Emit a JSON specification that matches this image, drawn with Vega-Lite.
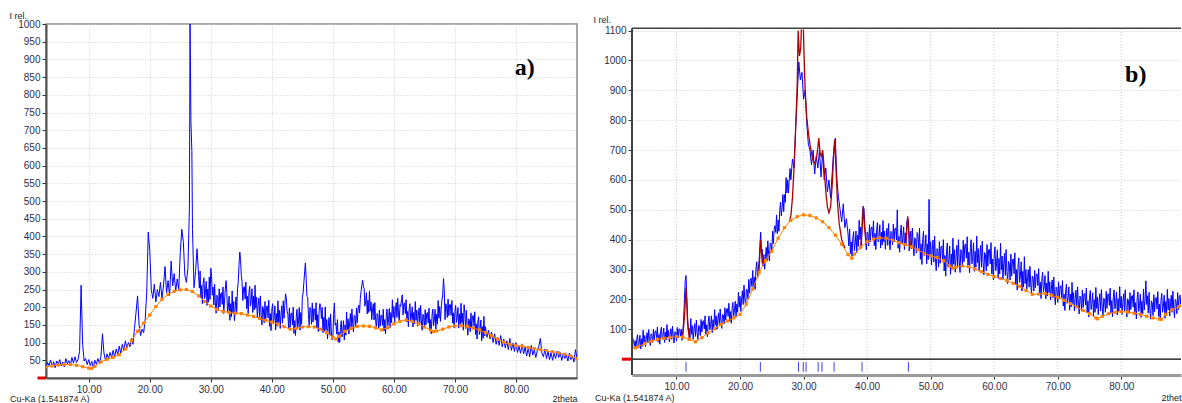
{
"$schema": "https://vega.github.io/schema/vega-lite/v6.json",
"background": "white",
"padding": {"left": 8, "top": 10, "right": 0, "bottom": 0},
"spacing": 15,
"datasets": {
"a_obs": [
{"t":3.0,"i":30},{"t":3.25,"i":44},{"t":3.5,"i":35},{"t":3.75,"i":51},{"t":4.0,"i":32},{"t":4.25,"i":46},{"t":4.5,"i":29},{"t":4.75,"i":48},{"t":5.0,"i":38},{"t":5.25,"i":52},{"t":5.5,"i":34},{"t":5.75,"i":45},{"t":6.0,"i":31},{"t":6.25,"i":55},{"t":6.5,"i":40},{"t":6.75,"i":49},{"t":7.0,"i":36},{"t":7.25,"i":58},{"t":7.5,"i":42},{"t":7.75,"i":60},{"t":8.0,"i":44},{"t":8.25,"i":52},{"t":8.5,"i":75},{"t":8.75,"i":262},{"t":9.0,"i":95},{"t":9.25,"i":48},{"t":9.5,"i":55},{"t":9.75,"i":38},{"t":10.0,"i":52},{"t":10.25,"i":35},{"t":10.5,"i":47},{"t":10.75,"i":30},{"t":11.0,"i":50},{"t":11.25,"i":39},{"t":11.5,"i":55},{"t":11.75,"i":42},{"t":12.0,"i":60},{"t":12.25,"i":125},{"t":12.5,"i":70},{"t":12.75,"i":50},{"t":13.0,"i":68},{"t":13.25,"i":55},{"t":13.5,"i":72},{"t":13.75,"i":58},{"t":14.0,"i":78},{"t":14.25,"i":60},{"t":14.5,"i":82},{"t":14.75,"i":66},{"t":15.0,"i":90},{"t":15.25,"i":70},{"t":15.5,"i":95},{"t":15.75,"i":78},{"t":16.0,"i":105},{"t":16.25,"i":84},{"t":16.5,"i":100},{"t":16.75,"i":88},{"t":17.0,"i":112},{"t":17.25,"i":95},{"t":17.5,"i":140},{"t":17.75,"i":185},{"t":18.0,"i":232},{"t":18.25,"i":150},{"t":18.5,"i":120},{"t":18.75,"i":138},{"t":19.0,"i":128},{"t":19.25,"i":165},{"t":19.5,"i":240},{"t":19.75,"i":412},{"t":20.0,"i":360},{"t":20.25,"i":250},{"t":20.5,"i":225},{"t":20.75,"i":265},{"t":21.0,"i":215},{"t":21.25,"i":250},{"t":21.5,"i":230},{"t":21.75,"i":270},{"t":22.0,"i":225},{"t":22.25,"i":260},{"t":22.5,"i":315},{"t":22.75,"i":240},{"t":23.0,"i":275},{"t":23.25,"i":232},{"t":23.5,"i":330},{"t":23.75,"i":260},{"t":24.0,"i":295},{"t":24.25,"i":245},{"t":24.5,"i":280},{"t":24.75,"i":250},{"t":25.0,"i":355},{"t":25.25,"i":420},{"t":25.5,"i":385},{"t":25.75,"i":290},{"t":26.0,"i":270},{"t":26.25,"i":310},{"t":26.5,"i":480},{"t":26.6,"i":1000},{"t":26.75,"i":720},{"t":26.9,"i":640},{"t":27.0,"i":420},{"t":27.25,"i":255},{"t":27.5,"i":300},{"t":27.75,"i":365},
{"t":28.0,"i":290},{"t":28.125,"i":254},{"t":28.25,"i":302},{"t":28.375,"i":226},{"t":28.5,"i":261},{"t":28.625,"i":210},{"t":28.75,"i":267},{"t":28.875,"i":283},{"t":29.0,"i":225},{"t":29.125,"i":241},{"t":29.25,"i":273},{"t":29.375,"i":205},{"t":29.5,"i":251},{"t":29.625,"i":214},{"t":29.75,"i":285},{"t":29.875,"i":222},{"t":30.0,"i":310},{"t":30.125,"i":290},{"t":30.25,"i":234},{"t":30.375,"i":257},{"t":30.5,"i":206},{"t":30.625,"i":265},{"t":30.75,"i":213},{"t":30.875,"i":183},{"t":31.0,"i":234},{"t":31.125,"i":227},{"t":31.25,"i":191},{"t":31.375,"i":252},{"t":31.5,"i":201},{"t":31.625,"i":239},{"t":31.75,"i":241},{"t":31.875,"i":208},{"t":32.0,"i":257},{"t":32.125,"i":182},{"t":32.25,"i":217},{"t":32.375,"i":250},{"t":32.5,"i":275},{"t":32.625,"i":242},{"t":32.75,"i":184},{"t":32.875,"i":199},{"t":33.0,"i":231},{"t":33.125,"i":163},{"t":33.25,"i":210},{"t":33.375,"i":173},{"t":33.5,"i":246},{"t":33.625,"i":183},{"t":33.75,"i":216},{"t":33.875,"i":162},{"t":34.0,"i":198},{"t":34.125,"i":229},{"t":34.25,"i":184},{"t":34.375,"i":251},{"t":34.5,"i":270},{"t":34.625,"i":320},{"t":34.75,"i":356},{"t":34.875,"i":335},{"t":35.0,"i":290},{"t":35.125,"i":272},{"t":35.25,"i":219},{"t":35.375,"i":256},{"t":35.5,"i":258},{"t":35.625,"i":223},{"t":35.75,"i":271},{"t":35.875,"i":196},{"t":36.0,"i":231},{"t":36.125,"i":182},{"t":36.25,"i":241},{"t":36.375,"i":259},{"t":36.5,"i":203},{"t":36.625,"i":219},{"t":36.75,"i":252},{"t":36.875,"i":185},{"t":37.0,"i":231},{"t":37.125,"i":192},{"t":37.25,"i":262},{"t":37.375,"i":197},{"t":37.5,"i":228},{"t":37.625,"i":170},{"t":37.75,"i":204},{"t":37.875,"i":226},{"t":38.0,"i":173},{"t":38.125,"i":232},{"t":38.25,"i":180},{"t":38.375,"i":150},{"t":38.5,"i":202},{"t":38.625,"i":194},{"t":38.75,"i":156},{"t":38.875,"i":216},{"t":39.0,"i":163},{"t":39.125,"i":201},{"t":39.25,"i":204},{"t":39.375,"i":170},{"t":39.5,"i":220},{"t":39.625,"i":146},{"t":39.75,"i":182},{"t":39.875,"i":134},{"t":40.0,"i":192},{"t":40.125,"i":210},{"t":40.25,"i":154},{"t":40.375,"i":170},{"t":40.5,"i":204},{"t":40.625,"i":136},{"t":40.75,"i":182},{"t":40.875,"i":146},{"t":41.0,"i":218},{"t":41.125,"i":157},{"t":41.25,"i":192},{"t":41.375,"i":140},{"t":41.5,"i":178},{"t":41.625,"i":204},{"t":41.75,"i":155},{"t":41.875,"i":218},{"t":42.0,"i":169},{"t":42.125,"i":205},{"t":42.25,"i":238},{"t":42.375,"i":225},{"t":42.5,"i":189},{"t":42.625,"i":180},{"t":42.75,"i":140},{"t":42.875,"i":198},{"t":43.0,"i":143},{"t":43.125,"i":181},{"t":43.25,"i":184},{"t":43.375,"i":150},{"t":43.5,"i":200},{"t":43.625,"i":126},{"t":43.75,"i":162},{"t":43.875,"i":120},{"t":44.0,"i":172},{"t":44.125,"i":194},{"t":44.25,"i":141},{"t":44.375,"i":161},{"t":44.5,"i":199},{"t":44.625,"i":135},{"t":44.75,"i":185},{"t":44.875,"i":152},{"t":45.0,"i":228},{"t":45.125,"i":240},{"t":45.25,"i":270},{"t":45.375,"i":300},{"t":45.5,"i":325},{"t":45.625,"i":280},{"t":45.75,"i":230},{"t":45.875,"i":228},{"t":46.0,"i":179},{"t":46.125,"i":149},{"t":46.25,"i":199},{"t":46.375,"i":191},{"t":46.5,"i":152},{"t":46.625,"i":212},{"t":46.75,"i":158},{"t":46.875,"i":195},{"t":47.0,"i":195},{"t":47.125,"i":163},{"t":47.25,"i":213},{"t":47.375,"i":141},{"t":47.5,"i":179},{"t":47.625,"i":131},{"t":47.75,"i":191},{"t":47.875,"i":210},{"t":48.0,"i":202},{"t":48.125,"i":168},{"t":48.25,"i":199},{"t":48.375,"i":128},{"t":48.5,"i":171},{"t":48.625,"i":131},{"t":48.75,"i":201},{"t":48.875,"i":135},{"t":49.0,"i":165},{"t":49.125,"i":110},{"t":49.25,"i":147},{"t":49.375,"i":171},{"t":49.5,"i":121},{"t":49.625,"i":181},{"t":49.75,"i":130},{"t":49.875,"i":108},{"t":50.0,"i":116},{"t":50.125,"i":180},{"t":50.25,"i":212},{"t":50.375,"i":150},{"t":50.5,"i":155},{"t":50.625,"i":124},{"t":50.75,"i":165},{"t":50.875,"i":101},{"t":51.0,"i":130},{"t":51.125,"i":100},{"t":51.25,"i":143},{"t":51.375,"i":162},{"t":51.5,"i":116},{"t":51.625,"i":132},{"t":51.75,"i":162},{"t":51.875,"i":107},{"t":52.0,"i":150},{"t":52.125,"i":121},{"t":52.25,"i":186},{"t":52.375,"i":136},{"t":52.5,"i":167},{"t":52.625,"i":124},{"t":52.75,"i":157},{"t":52.875,"i":182},{"t":53.0,"i":141},{"t":53.125,"i":195},{"t":53.25,"i":153},{"t":53.375,"i":130},{"t":53.5,"i":177},{"t":53.625,"i":173},{"t":53.75,"i":144},{"t":53.875,"i":198},{"t":54.0,"i":156},{"t":54.125,"i":196},{"t":54.25,"i":206},{"t":54.375,"i":184},{"t":54.5,"i":225},{"t":54.625,"i":245},{"t":54.75,"i":262},{"t":54.875,"i":276},{"t":55.0,"i":258},{"t":55.125,"i":253},{"t":55.25,"i":203},{"t":55.375,"i":215},{"t":55.5,"i":241},{"t":55.625,"i":181},{"t":55.75,"i":220},{"t":55.875,"i":185},{"t":56.0,"i":246},{"t":56.125,"i":189},{"t":56.25,"i":215},{"t":56.375,"i":165},{"t":56.5,"i":192},{"t":56.625,"i":210},{"t":56.75,"i":164},{"t":56.875,"i":213},{"t":57.0,"i":165},{"t":57.125,"i":139},{"t":57.25,"i":182},{"t":57.375,"i":175},{"t":57.5,"i":141},{"t":57.625,"i":192},{"t":57.75,"i":146},{"t":57.875,"i":177},{"t":58.0,"i":177},{"t":58.125,"i":149},{"t":58.25,"i":194},{"t":58.375,"i":133},{"t":58.5,"i":165},{"t":58.625,"i":125},{"t":58.75,"i":177},{"t":58.875,"i":195},{"t":59.0,"i":148},{"t":59.125,"i":166},{"t":59.25,"i":196},{"t":59.375,"i":142},{"t":59.5,"i":185},{"t":59.625,"i":156},{"t":59.75,"i":221},{"t":59.875,"i":171},{"t":60.0,"i":202},{"t":60.125,"i":157},{"t":60.25,"i":190},{"t":60.375,"i":213},{"t":60.5,"i":171},{"t":60.625,"i":225},{"t":60.75,"i":183},{"t":60.875,"i":160},{"t":61.0,"i":207},{"t":61.125,"i":203},{"t":61.25,"i":222},{"t":61.375,"i":235},{"t":61.5,"i":178},{"t":61.625,"i":210},{"t":61.75,"i":212},{"t":61.875,"i":182},{"t":62.0,"i":221},{"t":62.125,"i":158},{"t":62.25,"i":188},{"t":62.375,"i":145},{"t":62.5,"i":194},{"t":62.625,"i":210},{"t":62.75,"i":161},{"t":62.875,"i":174},{"t":63.0,"i":201},{"t":63.125,"i":144},{"t":63.25,"i":185},{"t":63.375,"i":153},{"t":63.5,"i":216},{"t":63.625,"i":163},{"t":63.75,"i":192},{"t":63.875,"i":146},{"t":64.0,"i":177},{"t":64.125,"i":198},{"t":64.25,"i":154},{"t":64.375,"i":205},{"t":64.5,"i":160},{"t":64.625,"i":135},{"t":64.75,"i":180},{"t":64.875,"i":173},{"t":65.0,"i":141},{"t":65.125,"i":193},{"t":65.25,"i":150},{"t":65.375,"i":182},{"t":65.5,"i":185},{"t":65.625,"i":155},{"t":65.75,"i":197},{"t":65.875,"i":135},{"t":66.0,"i":165},{"t":66.125,"i":125},{"t":66.25,"i":177},{"t":66.375,"i":195},{"t":66.5,"i":148},{"t":66.625,"i":164},{"t":66.75,"i":194},{"t":66.875,"i":138},{"t":67.0,"i":180},{"t":67.125,"i":152},{"t":67.25,"i":219},{"t":67.375,"i":169},{"t":67.5,"i":202},{"t":67.625,"i":160},{"t":67.75,"i":195},{"t":67.875,"i":220},{"t":68.0,"i":235},{"t":68.125,"i":281},{"t":68.25,"i":250},{"t":68.375,"i":165},{"t":68.5,"i":210},{"t":68.625,"i":203},{"t":68.75,"i":171},{"t":68.875,"i":223},{"t":69.0,"i":176},{"t":69.125,"i":207},{"t":69.25,"i":208},{"t":69.375,"i":177},{"t":69.5,"i":219},{"t":69.625,"i":155},{"t":69.75,"i":184},{"t":69.875,"i":141},{"t":70.0,"i":189},{"t":70.125,"i":205},{"t":70.25,"i":157},{"t":70.375,"i":171},{"t":70.5,"i":199},{"t":70.625,"i":141},{"t":70.75,"i":181},{"t":70.875,"i":149},{"t":71.0,"i":211},{"t":71.125,"i":156},{"t":71.25,"i":183},{"t":71.375,"i":135},{"t":71.5,"i":207},{"t":71.625,"i":185},{"t":71.75,"i":140},{"t":71.875,"i":191},{"t":72.0,"i":145},{"t":72.125,"i":121},{"t":72.25,"i":167},{"t":72.375,"i":162},{"t":72.5,"i":131},{"t":72.625,"i":184},{"t":72.75,"i":141},{"t":72.875,"i":174},{"t":73.0,"i":177},{"t":73.125,"i":146},{"t":73.25,"i":187},{"t":73.375,"i":123},{"t":73.5,"i":153},{"t":73.625,"i":110},{"t":73.75,"i":158},{"t":73.875,"i":173},{"t":74.0,"i":123},{"t":74.125,"i":137},{"t":74.25,"i":164},{"t":74.375,"i":105},{"t":74.5,"i":145},{"t":74.625,"i":112},{"t":74.75,"i":174},{"t":74.875,"i":119},
{"t":75.0,"i":145},{"t":75.25,"i":115},{"t":75.5,"i":135},{"t":75.75,"i":110},{"t":76.0,"i":130},{"t":76.25,"i":100},{"t":76.5,"i":125},{"t":76.75,"i":95},{"t":77.0,"i":115},{"t":77.25,"i":92},{"t":77.5,"i":120},{"t":77.75,"i":88},{"t":78.0,"i":110},{"t":78.25,"i":85},{"t":78.5,"i":105},{"t":78.75,"i":80},{"t":79.0,"i":112},{"t":79.25,"i":78},{"t":79.5,"i":98},{"t":79.75,"i":75},{"t":80.0,"i":100},{"t":80.25,"i":72},{"t":80.5,"i":90},{"t":80.75,"i":70},{"t":81.0,"i":95},{"t":81.25,"i":68},{"t":81.5,"i":88},{"t":81.75,"i":62},{"t":82.0,"i":85},{"t":82.25,"i":60},{"t":82.5,"i":92},{"t":82.75,"i":65},{"t":83.0,"i":80},{"t":83.25,"i":58},{"t":83.5,"i":78},{"t":83.75,"i":90},{"t":84.0,"i":112},{"t":84.25,"i":70},{"t":84.5,"i":60},{"t":84.75,"i":82},{"t":85.0,"i":55},{"t":85.25,"i":75},{"t":85.5,"i":52},{"t":85.75,"i":72},{"t":86.0,"i":50},{"t":86.25,"i":70},{"t":86.5,"i":55},{"t":86.75,"i":76},{"t":87.0,"i":58},{"t":87.25,"i":72},{"t":87.5,"i":50},{"t":87.75,"i":68},{"t":88.0,"i":55},{"t":88.25,"i":65},{"t":88.5,"i":48},{"t":88.75,"i":70},{"t":89.0,"i":52},{"t":89.25,"i":62},{"t":89.5,"i":45},{"t":89.75,"i":80},{"t":90.0,"i":55}
],
"a_bg": [
{"t":3,"i":31},{"t":4,"i":34},{"t":5,"i":37},{"t":6,"i":38},{"t":7,"i":38},{"t":8,"i":36},{"t":9,"i":32},{"t":10,"i":28},{"t":10.5,"i":27},{"t":11,"i":33},{"t":12,"i":45},{"t":13,"i":53},{"t":14,"i":58},{"t":15,"i":66},{"t":16,"i":82},{"t":17,"i":105},{"t":18,"i":132},{"t":19,"i":155},{"t":20,"i":178},{"t":21,"i":202},{"t":22,"i":222},{"t":23,"i":236},{"t":24,"i":245},{"t":25,"i":249},{"t":26,"i":250},{"t":27,"i":244},{"t":28,"i":232},{"t":29,"i":216},{"t":30,"i":203},{"t":31,"i":194},{"t":32,"i":188},{"t":33,"i":185},{"t":34,"i":183},{"t":35,"i":182},{"t":36,"i":178},{"t":37,"i":174},{"t":38,"i":168},{"t":39,"i":163},{"t":40,"i":158},{"t":41,"i":152},{"t":42,"i":145},{"t":43,"i":138},{"t":44,"i":140},{"t":45,"i":144},{"t":46,"i":145},{"t":47,"i":144},{"t":48,"i":138},{"t":49,"i":128},{"t":50,"i":115},{"t":50.5,"i":110},{"t":51,"i":118},{"t":52,"i":132},{"t":53,"i":140},{"t":54,"i":146},{"t":55,"i":147},{"t":56,"i":146},{"t":57,"i":142},{"t":58,"i":136},{"t":59,"i":142},{"t":60,"i":153},{"t":61,"i":160},{"t":62,"i":164},{"t":63,"i":160},{"t":64,"i":153},{"t":65,"i":144},{"t":66,"i":135},{"t":66.5,"i":131},{"t":67,"i":133},{"t":68,"i":138},{"t":69,"i":144},{"t":70,"i":147},{"t":71,"i":148},{"t":72,"i":146},{"t":73,"i":141},{"t":74,"i":136},{"t":75,"i":128},{"t":76,"i":119},{"t":77,"i":110},{"t":78,"i":101},{"t":79,"i":95},{"t":80,"i":92},{"t":81,"i":90},{"t":82,"i":86},{"t":83,"i":83},{"t":84,"i":80},{"t":85,"i":77},{"t":86,"i":74},{"t":87,"i":71},{"t":88,"i":67},{"t":89,"i":62},{"t":90,"i":55}
],
"b_obs": [
{"t":3.0,"i":82},{"t":3.125,"i":70},{"t":3.25,"i":60},{"t":3.375,"i":45},{"t":3.5,"i":62},{"t":3.625,"i":35},{"t":3.75,"i":68},{"t":3.875,"i":82},{"t":4.0,"i":41},{"t":4.125,"i":54},{"t":4.25,"i":80},{"t":4.375,"i":34},{"t":4.5,"i":68},{"t":4.625,"i":43},{"t":4.75,"i":97},{"t":4.875,"i":54},{"t":5.0,"i":79},{"t":5.125,"i":42},{"t":5.25,"i":70},{"t":5.375,"i":89},{"t":5.5,"i":54},{"t":5.625,"i":99},{"t":5.75,"i":65},{"t":5.875,"i":46},{"t":6.0,"i":85},{"t":6.125,"i":81},{"t":6.25,"i":56},{"t":6.375,"i":100},{"t":6.5,"i":65},{"t":6.625,"i":93},{"t":6.75,"i":95},{"t":6.875,"i":72},{"t":7.0,"i":108},{"t":7.125,"i":57},{"t":7.25,"i":83},{"t":7.375,"i":50},{"t":7.5,"i":92},{"t":7.625,"i":107},{"t":7.75,"i":67},{"t":7.875,"i":80},{"t":8.0,"i":104},{"t":8.125,"i":56},{"t":8.25,"i":90},{"t":8.375,"i":64},{"t":8.5,"i":116},{"t":8.625,"i":72},{"t":8.75,"i":96},{"t":8.875,"i":58},{"t":9.0,"i":84},{"t":9.125,"i":102},{"t":9.25,"i":66},{"t":9.375,"i":110},{"t":9.5,"i":74},{"t":9.625,"i":54},{"t":9.75,"i":92},{"t":9.875,"i":88},{"t":10.0,"i":62},{"t":10.125,"i":106},{"t":10.25,"i":71},{"t":10.375,"i":99},{"t":10.5,"i":102},{"t":10.625,"i":78},{"t":10.75,"i":100},{"t":10.875,"i":63},{"t":11.0,"i":95},{"t":11.125,"i":130},{"t":11.25,"i":200},{"t":11.375,"i":262},{"t":11.5,"i":280},{"t":11.625,"i":210},{"t":11.75,"i":140},{"t":11.875,"i":95},{"t":12.0,"i":103},{"t":12.125,"i":73},{"t":12.25,"i":136},{"t":12.375,"i":83},{"t":12.5,"i":112},{"t":12.625,"i":66},{"t":12.75,"i":97},{"t":12.875,"i":119},{"t":13.0,"i":76},{"t":13.125,"i":131},{"t":13.25,"i":88},{"t":13.375,"i":66},{"t":13.5,"i":113},{"t":13.625,"i":109},{"t":13.75,"i":79},{"t":13.875,"i":133},{"t":14.0,"i":91},{"t":14.125,"i":125},{"t":14.25,"i":129},{"t":14.375,"i":101},{"t":14.5,"i":145},{"t":14.625,"i":83},{"t":14.75,"i":115},{"t":14.875,"i":75},{"t":15.0,"i":126},{"t":15.125,"i":145},{"t":15.25,"i":98},{"t":15.375,"i":115},{"t":15.5,"i":145},{"t":15.625,"i":89},{"t":15.75,"i":132},{"t":15.875,"i":101},{"t":16.0,"i":166},{"t":16.125,"i":114},{"t":16.25,"i":145},{"t":16.375,"i":100},{"t":16.5,"i":132},{"t":16.625,"i":155},{"t":16.75,"i":114},{"t":16.875,"i":168},{"t":17.0,"i":125},{"t":17.125,"i":103},{"t":17.25,"i":150},{"t":17.375,"i":147},{"t":17.5,"i":118},{"t":17.625,"i":172},{"t":17.75,"i":131},{"t":17.875,"i":165},{"t":18.0,"i":170},{"t":18.125,"i":143},{"t":18.25,"i":187},{"t":18.375,"i":127},{"t":18.5,"i":159},{"t":18.625,"i":120},{"t":18.75,"i":171},{"t":18.875,"i":190},{"t":19.0,"i":143},{"t":19.125,"i":162},{"t":19.25,"i":194},{"t":19.375,"i":140},{"t":19.5,"i":185},{"t":19.625,"i":157},{"t":19.75,"i":224},{"t":19.875,"i":174},{"t":20.0,"i":210},{"t":20.125,"i":160},{"t":20.25,"i":201},{"t":20.375,"i":229},{"t":20.5,"i":183},{"t":20.625,"i":248},{"t":20.75,"i":202},{"t":20.875,"i":177},{"t":21.0,"i":234},{"t":21.125,"i":232},{"t":21.25,"i":201},{"t":21.375,"i":267},{"t":21.5,"i":221},{"t":21.625,"i":264},{"t":21.75,"i":271},{"t":21.875,"i":243},{"t":22.0,"i":297},{"t":22.125,"i":231},{"t":22.25,"i":275},{"t":22.375,"i":234},{"t":22.5,"i":300},{"t":22.625,"i":326},{"t":22.75,"i":277},{"t":22.875,"i":301},{"t":23.0,"i":330},{"t":23.125,"i":380},{"t":23.25,"i":425},{"t":23.375,"i":360},{"t":23.5,"i":368},{"t":23.625,"i":311},{"t":23.75,"i":350},{"t":23.875,"i":301},{"t":24.0,"i":343},{"t":24.125,"i":374},{"t":24.25,"i":329},{"t":24.375,"i":396},{"t":24.5,"i":351},{"t":24.625,"i":329},{"t":24.75,"i":388},{"t":24.875,"i":387},{"t":25.0,"i":357},{"t":25.125,"i":428},{"t":25.25,"i":387},{"t":25.375,"i":435},{"t":25.5,"i":447},{"t":25.625,"i":424},{"t":25.75,"i":483},{"t":25.875,"i":420},{"t":26.0,"i":466},{"t":26.125,"i":428},{"t":26.25,"i":497},{"t":26.375,"i":526},{"t":26.5,"i":480},{"t":26.625,"i":507},{"t":26.75,"i":551},{"t":26.875,"i":494},{"t":27.0,"i":551},{"t":27.125,"i":525},{"t":27.25,"i":608},{"t":27.375,"i":556},{"t":27.5,"i":600},{"t":27.625,"i":556},{"t":27.75,"i":603},{"t":27.875,"i":638},
{"t":28.0,"i":600},{"t":28.25,"i":670},{"t":28.5,"i":640},{"t":28.75,"i":770},{"t":29.0,"i":880},{"t":29.25,"i":995},{"t":29.5,"i":935},{"t":29.75,"i":960},{"t":30.0,"i":870},{"t":30.25,"i":900},{"t":30.5,"i":790},{"t":30.75,"i":720},{"t":31.0,"i":700},{"t":31.25,"i":650},{"t":31.5,"i":700},{"t":31.75,"i":620},{"t":32.0,"i":680},{"t":32.25,"i":640},{"t":32.5,"i":700},{"t":32.75,"i":610},{"t":33.0,"i":690},{"t":33.25,"i":600},{"t":33.5,"i":640},{"t":33.75,"i":560},{"t":34.0,"i":600},{"t":34.25,"i":540},{"t":34.5,"i":620},{"t":34.75,"i":700},{"t":35.0,"i":740},{"t":35.25,"i":600},{"t":35.5,"i":540},{"t":35.75,"i":500},{"t":36.0,"i":460},{"t":36.25,"i":520},{"t":36.5,"i":440},{"t":36.75,"i":470},
{"t":37.0,"i":419},{"t":37.125,"i":379},{"t":37.25,"i":436},{"t":37.375,"i":353},{"t":37.5,"i":393},{"t":37.625,"i":345},{"t":37.75,"i":405},{"t":37.875,"i":427},{"t":38.0,"i":363},{"t":38.125,"i":386},{"t":38.25,"i":429},{"t":38.375,"i":356},{"t":38.5,"i":415},{"t":38.625,"i":378},{"t":38.75,"i":465},{"t":38.875,"i":400},{"t":39.0,"i":442},{"t":39.125,"i":381},{"t":39.25,"i":480},{"t":39.375,"i":512},{"t":39.5,"i":505},{"t":39.625,"i":459},{"t":39.75,"i":400},{"t":39.875,"i":366},{"t":40.0,"i":426},{"t":40.125,"i":421},{"t":40.25,"i":379},{"t":40.375,"i":450},{"t":40.5,"i":393},{"t":40.625,"i":439},{"t":40.75,"i":443},{"t":40.875,"i":404},{"t":41.0,"i":463},{"t":41.125,"i":380},{"t":41.25,"i":421},{"t":41.375,"i":367},{"t":41.5,"i":434},{"t":41.625,"i":457},{"t":41.75,"i":393},{"t":41.875,"i":412},{"t":42.0,"i":450},{"t":42.125,"i":372},{"t":42.25,"i":425},{"t":42.375,"i":382},{"t":42.5,"i":464},{"t":42.625,"i":393},{"t":42.75,"i":429},{"t":42.875,"i":368},{"t":43.0,"i":408},{"t":43.125,"i":438},{"t":43.25,"i":381},{"t":43.375,"i":454},{"t":43.5,"i":397},{"t":43.625,"i":366},{"t":43.75,"i":428},{"t":43.875,"i":424},{"t":44.0,"i":383},{"t":44.125,"i":452},{"t":44.25,"i":393},{"t":44.375,"i":437},{"t":44.5,"i":439},{"t":44.625,"i":399},{"t":44.75,"i":500},{"t":44.875,"i":371},{"t":45.0,"i":411},{"t":45.125,"i":358},{"t":45.25,"i":425},{"t":45.375,"i":449},{"t":45.5,"i":385},{"t":45.625,"i":405},{"t":45.75,"i":443},{"t":45.875,"i":367},{"t":46.0,"i":423},{"t":46.125,"i":379},{"t":46.25,"i":460},{"t":46.375,"i":470},{"t":46.5,"i":462},{"t":46.625,"i":362},{"t":46.75,"i":401},{"t":46.875,"i":429},{"t":47.0,"i":369},{"t":47.125,"i":439},{"t":47.25,"i":379},{"t":47.375,"i":346},{"t":47.5,"i":406},{"t":47.625,"i":399},{"t":47.75,"i":355},{"t":47.875,"i":424},
{"t":48.0,"i":416},{"t":48.125,"i":367},{"t":48.25,"i":439},{"t":48.375,"i":334},{"t":48.5,"i":386},{"t":48.625,"i":317},{"t":48.75,"i":400},{"t":48.875,"i":428},{"t":49.0,"i":347},{"t":49.125,"i":370},{"t":49.25,"i":416},{"t":49.375,"i":319},{"t":49.5,"i":386},{"t":49.625,"i":333},{"t":49.75,"i":535},{"t":49.875,"i":346},{"t":50.0,"i":393},{"t":50.125,"i":315},{"t":50.25,"i":365},{"t":50.375,"i":399},{"t":50.5,"i":325},{"t":50.625,"i":412},{"t":50.75,"i":338},{"t":50.875,"i":296},{"t":51.0,"i":370},{"t":51.125,"i":361},{"t":51.25,"i":308},{"t":51.375,"i":394},{"t":51.5,"i":321},{"t":51.625,"i":376},{"t":51.75,"i":379},{"t":51.875,"i":329},{"t":52.0,"i":400},{"t":52.125,"i":295},{"t":52.25,"i":347},{"t":52.375,"i":278},{"t":52.5,"i":361},{"t":52.625,"i":389},{"t":52.75,"i":308},{"t":52.875,"i":332},{"t":53.0,"i":379},{"t":53.125,"i":284},{"t":53.25,"i":352},{"t":53.375,"i":301},{"t":53.5,"i":405},{"t":53.625,"i":318},{"t":53.75,"i":367},{"t":53.875,"i":291},{"t":54.0,"i":344},{"t":54.125,"i":381},{"t":54.25,"i":310},{"t":54.375,"i":400},{"t":54.5,"i":329},{"t":54.625,"i":290},{"t":54.75,"i":367},{"t":54.875,"i":361},{"t":55.0,"i":310},{"t":55.125,"i":398},{"t":55.25,"i":326},{"t":55.375,"i":382},{"t":55.5,"i":386},{"t":55.625,"i":338},{"t":55.75,"i":410},{"t":55.875,"i":306},{"t":56.0,"i":358},{"t":56.125,"i":289},{"t":56.25,"i":373},{"t":56.375,"i":400},{"t":56.5,"i":319},{"t":56.625,"i":343},{"t":56.75,"i":390},{"t":56.875,"i":294},{"t":57.0,"i":361},{"t":57.125,"i":308},{"t":57.25,"i":412},{"t":57.375,"i":323},{"t":57.5,"i":370},{"t":57.625,"i":294},{"t":57.75,"i":345},{"t":57.875,"i":381},{"t":58.0,"i":308},{"t":58.125,"i":395},{"t":58.25,"i":323},{"t":58.375,"i":282},{"t":58.5,"i":357},{"t":58.625,"i":349},{"t":58.75,"i":296},{"t":58.875,"i":384},{"t":59.0,"i":311},{"t":59.125,"i":366},{"t":59.25,"i":368},{"t":59.375,"i":319},{"t":59.5,"i":390},{"t":59.625,"i":285},{"t":59.75,"i":335},{"t":59.875,"i":266},{"t":60.0,"i":349},{"t":60.125,"i":376},{"t":60.25,"i":296},{"t":60.375,"i":319},{"t":60.5,"i":366},{"t":60.625,"i":270},{"t":60.75,"i":337},{"t":60.875,"i":285},{"t":61.0,"i":388},{"t":61.125,"i":299},{"t":61.25,"i":345},{"t":61.375,"i":268},{"t":61.5,"i":319},{"t":61.625,"i":354},{"t":61.75,"i":280},{"t":61.875,"i":367},{"t":62.0,"i":294},{"t":62.125,"i":253},{"t":62.25,"i":327},{"t":62.375,"i":318},{"t":62.5,"i":265},{"t":62.625,"i":352},{"t":62.75,"i":278},{"t":62.875,"i":333},{"t":63.0,"i":336},{"t":63.125,"i":286},{"t":63.25,"i":356},{"t":63.375,"i":250},{"t":63.5,"i":300},{"t":63.625,"i":231},{"t":63.75,"i":313},{"t":63.875,"i":339},{"t":64.0,"i":257},{"t":64.125,"i":279},{"t":64.25,"i":326},{"t":64.375,"i":228},{"t":64.5,"i":294},{"t":64.625,"i":241},{"t":64.75,"i":343},{"t":64.875,"i":253},{"t":65.0,"i":300},{"t":65.125,"i":233},{"t":65.25,"i":273},{"t":65.375,"i":300},{"t":65.5,"i":241},{"t":65.625,"i":311},{"t":65.75,"i":252},{"t":65.875,"i":218},{"t":66.0,"i":278},{"t":66.125,"i":271},{"t":66.25,"i":228},{"t":66.375,"i":297},{"t":66.5,"i":239},{"t":66.625,"i":284},{"t":66.75,"i":286},{"t":66.875,"i":246},{"t":67.0,"i":303},{"t":67.125,"i":219},{"t":67.25,"i":258},{"t":67.375,"i":203},{"t":67.5,"i":269},{"t":67.625,"i":291},{"t":67.75,"i":225},{"t":67.875,"i":243},{"t":68.0,"i":280},{"t":68.125,"i":202},{"t":68.25,"i":255},{"t":68.375,"i":212},{"t":68.5,"i":294},{"t":68.625,"i":223},{"t":68.75,"i":259},{"t":68.875,"i":198},{"t":69.0,"i":238},{"t":69.125,"i":265},{"t":69.25,"i":206},{"t":69.375,"i":275},{"t":69.5,"i":215},{"t":69.625,"i":182},{"t":69.75,"i":241},{"t":69.875,"i":234},{"t":70.0,"i":190},{"t":70.125,"i":259},{"t":70.25,"i":201},{"t":70.375,"i":244},{"t":70.5,"i":246},{"t":70.625,"i":206},{"t":70.75,"i":263},{"t":70.875,"i":178},{"t":71.0,"i":218},{"t":71.125,"i":163},{"t":71.25,"i":229},{"t":71.375,"i":251},{"t":71.5,"i":187},{"t":71.625,"i":205},{"t":71.75,"i":242},{"t":71.875,"i":164},{"t":72.0,"i":218},{"t":72.125,"i":175},{"t":72.25,"i":257},{"t":72.375,"i":186},{"t":72.5,"i":223},{"t":72.625,"i":162},{"t":72.75,"i":203},{"t":72.875,"i":231},{"t":73.0,"i":172},{"t":73.125,"i":242},{"t":73.25,"i":184},{"t":73.375,"i":151},{"t":73.5,"i":211},{"t":73.625,"i":204},{"t":73.75,"i":162},{"t":73.875,"i":231},{"t":74.0,"i":173},{"t":74.125,"i":218},{"t":74.25,"i":220},{"t":74.375,"i":181},{"t":74.5,"i":238},{"t":74.625,"i":155},{"t":74.75,"i":195},{"t":74.875,"i":141},{"t":75.0,"i":207},{"t":75.125,"i":230},{"t":75.25,"i":166},{"t":75.375,"i":184},{"t":75.5,"i":222},{"t":75.625,"i":145},{"t":75.75,"i":199},{"t":75.875,"i":157},{"t":76.0,"i":240},{"t":76.125,"i":170},{"t":76.25,"i":208},{"t":76.375,"i":149},{"t":76.5,"i":190},{"t":76.625,"i":219},{"t":76.75,"i":161},{"t":76.875,"i":233},{"t":77.0,"i":175},{"t":77.125,"i":143},{"t":77.25,"i":204},{"t":77.375,"i":198},{"t":77.5,"i":157},{"t":77.625,"i":227},{"t":77.75,"i":170},{"t":77.875,"i":216},{"t":78.0,"i":219},{"t":78.125,"i":180},{"t":78.25,"i":238},{"t":78.375,"i":155},{"t":78.5,"i":196},{"t":78.625,"i":142},{"t":78.75,"i":209},{"t":78.875,"i":232},{"t":79.0,"i":168},{"t":79.125,"i":187},{"t":79.25,"i":225},{"t":79.375,"i":148},{"t":79.5,"i":202},{"t":79.625,"i":160},{"t":79.75,"i":243},{"t":79.875,"i":172},{"t":80.0,"i":210},{"t":80.125,"i":150},{"t":80.25,"i":190},{"t":80.375,"i":219},{"t":80.5,"i":161},{"t":80.625,"i":232},{"t":80.75,"i":173},{"t":80.875,"i":141},{"t":81.0,"i":202},{"t":81.125,"i":196},{"t":81.25,"i":153},{"t":81.375,"i":223},{"t":81.5,"i":166},{"t":81.625,"i":211},{"t":81.75,"i":213},{"t":81.875,"i":174},{"t":82.0,"i":232},{"t":82.125,"i":149},{"t":82.25,"i":189},{"t":82.375,"i":135},{"t":82.5,"i":202},{"t":82.625,"i":225},{"t":82.75,"i":160},{"t":82.875,"i":179},{"t":83.0,"i":217},{"t":83.125,"i":140},{"t":83.25,"i":194},{"t":83.375,"i":152},{"t":83.5,"i":235},{"t":83.625,"i":165},{"t":83.75,"i":202},{"t":83.875,"i":262},{"t":84.0,"i":183},{"t":84.125,"i":212},{"t":84.25,"i":154},{"t":84.375,"i":224},{"t":84.5,"i":166},{"t":84.625,"i":134},{"t":84.75,"i":195},{"t":84.875,"i":188},{"t":85.0,"i":146},{"t":85.125,"i":216},{"t":85.25,"i":159},{"t":85.375,"i":204},{"t":85.5,"i":207},{"t":85.625,"i":168},{"t":85.75,"i":226},{"t":85.875,"i":143},{"t":86.0,"i":184},{"t":86.125,"i":130},{"t":86.25,"i":197},{"t":86.375,"i":220},{"t":86.5,"i":157},{"t":86.625,"i":176},{"t":86.75,"i":214},{"t":86.875,"i":137},{"t":87.0,"i":193},{"t":87.125,"i":151},{"t":87.25,"i":234},{"t":87.375,"i":165},{"t":87.5,"i":203},{"t":87.625,"i":144},{"t":87.75,"i":185},{"t":87.875,"i":214},{"t":88.0,"i":157},{"t":88.125,"i":228},{"t":88.25,"i":170},{"t":88.375,"i":139},{"t":88.5,"i":200},{"t":88.625,"i":194},{"t":88.75,"i":152},{"t":88.875,"i":223},{"t":89.0,"i":166},{"t":89.125,"i":211},{"t":89.25,"i":214},{"t":89.375,"i":175},{"t":89.5,"i":233}
],
"b_bg": [
{"t":3,"i":42},{"t":3.5,"i":38},{"t":4,"i":42},{"t":5,"i":52},{"t":6,"i":60},{"t":7,"i":66},{"t":8,"i":70},{"t":9,"i":73},{"t":10,"i":75},{"t":11,"i":74},{"t":12,"i":66},{"t":13,"i":58},{"t":14,"i":72},{"t":15,"i":88},{"t":16,"i":102},{"t":17,"i":116},{"t":18,"i":128},{"t":19,"i":138},{"t":20,"i":150},{"t":21,"i":185},{"t":22,"i":235},{"t":23,"i":290},{"t":24,"i":330},{"t":25,"i":362},{"t":26,"i":405},{"t":27,"i":440},{"t":28,"i":465},{"t":29,"i":477},{"t":30,"i":483},{"t":31,"i":481},{"t":32,"i":473},{"t":33,"i":460},{"t":34,"i":440},{"t":35,"i":415},{"t":36,"i":385},{"t":37,"i":350},{"t":37.6,"i":338},{"t":38,"i":352},{"t":39,"i":375},{"t":40,"i":393},{"t":41,"i":402},{"t":42,"i":406},{"t":43,"i":405},{"t":44,"i":398},{"t":45,"i":390},{"t":46,"i":383},{"t":47,"i":376},{"t":48,"i":366},{"t":49,"i":354},{"t":50,"i":346},{"t":51,"i":340},{"t":52,"i":330},{"t":53,"i":312},{"t":53.5,"i":305},{"t":54,"i":308},{"t":55,"i":312},{"t":56,"i":310},{"t":57,"i":302},{"t":58,"i":293},{"t":59,"i":284},{"t":60,"i":277},{"t":61,"i":270},{"t":62,"i":263},{"t":63,"i":254},{"t":64,"i":244},{"t":65,"i":230},{"t":66,"i":217},{"t":67,"i":218},{"t":68,"i":220},{"t":69,"i":214},{"t":70,"i":207},{"t":71,"i":197},{"t":72,"i":186},{"t":73,"i":175},{"t":74,"i":163},{"t":75,"i":152},{"t":76,"i":138},{"t":76.3,"i":135},{"t":77,"i":143},{"t":78,"i":152},{"t":79,"i":157},{"t":80,"i":159},{"t":81,"i":158},{"t":82,"i":154},{"t":83,"i":150},{"t":84,"i":144},{"t":85,"i":138},{"t":86,"i":134},{"t":86.3,"i":133},{"t":87,"i":150},{"t":88,"i":165},{"t":89,"i":175},{"t":89.5,"i":179}
],
"b_calc": [
{"s":1,"t":10.75,"i":74},{"s":1,"t":11.0,"i":80},{"s":1,"t":11.25,"i":140},{"s":1,"t":11.5,"i":240},{"s":1,"t":11.75,"i":120},{"s":1,"t":12.0,"i":72},{"s":1,"t":12.25,"i":68},
{"s":2,"t":22.75,"i":272},{"s":2,"t":23.0,"i":300},{"s":2,"t":23.25,"i":400},{"s":2,"t":23.5,"i":322},{"s":2,"t":23.75,"i":318},
{"s":3,"t":27.75,"i":460},{"s":3,"t":28.0,"i":480},{"s":3,"t":28.25,"i":540},{"s":3,"t":28.5,"i":640},{"s":3,"t":28.75,"i":770},{"s":3,"t":29.0,"i":920},{"s":3,"t":29.15,"i":1100},{"s":3,"t":29.35,"i":1015},{"s":3,"t":29.55,"i":1040},{"s":3,"t":29.75,"i":1160},{"s":3,"t":29.9,"i":1170},{"s":3,"t":30.05,"i":1040},{"s":3,"t":30.25,"i":900},{"s":3,"t":30.5,"i":810},{"s":3,"t":30.75,"i":760},{"s":3,"t":31.0,"i":720},{"s":3,"t":31.25,"i":690},{"s":3,"t":31.5,"i":665},{"s":3,"t":31.75,"i":655},{"s":3,"t":32.0,"i":670},{"s":3,"t":32.2,"i":700},{"s":3,"t":32.4,"i":740},{"s":3,"t":32.6,"i":690},{"s":3,"t":32.8,"i":680},{"s":3,"t":33.0,"i":700},{"s":3,"t":33.2,"i":650},{"s":3,"t":33.5,"i":560},{"s":3,"t":33.75,"i":510},{"s":3,"t":34.0,"i":490},{"s":3,"t":34.25,"i":510},{"s":3,"t":34.5,"i":580},{"s":3,"t":34.75,"i":690},{"s":3,"t":34.9,"i":735},{"s":3,"t":35.1,"i":640},{"s":3,"t":35.35,"i":520},{"s":3,"t":35.6,"i":455},{"s":3,"t":36.0,"i":400},{"s":3,"t":36.5,"i":372},
{"s":4,"t":38.75,"i":368},{"s":4,"t":39.0,"i":380},{"s":4,"t":39.25,"i":450},{"s":4,"t":39.4,"i":510},{"s":4,"t":39.6,"i":440},{"s":4,"t":39.85,"i":392},{"s":4,"t":40.1,"i":395},
{"s":5,"t":45.9,"i":384},{"s":5,"t":46.15,"i":400},{"s":5,"t":46.4,"i":478},{"s":5,"t":46.6,"i":420},{"s":5,"t":46.85,"i":380},{"s":5,"t":47.1,"i":376}
],
"b_refl": [
{"t":11.5},{"t":23.2},{"t":29.2},{"t":29.95},{"t":30.4},{"t":32.3},{"t":32.9},{"t":34.8},{"t":39.2},{"t":46.5}
],
"b_grid": [
{"t":10},{"t":20},{"t":30},{"t":40},{"t":50},{"t":60},{"t":70},{"t":80}
],
"one": [{}]
},
"hconcat": [
{
"width": 531,
"height": 354,
"view": {"stroke": "#8a8a8a", "strokeWidth": 1.5},
"title": {"text": "Cu-Ka (1.541874 A)", "orient": "bottom", "anchor": "start", "frame": "group", "fontSize": 9, "fontWeight": "normal", "font": "Liberation Sans", "color": "#222222", "offset": 0, "dx": -36, "dy": -8},
"layer": [
{
"data": {"name": "a_obs"},
"mark": {"type": "line", "color": "#0000ff", "strokeWidth": 1, "clip": true},
"encoding": {
"x": {"field": "t", "type": "quantitative", "scale": {"domain": [3, 90], "nice": false, "zero": false},
"axis": {"values": [10,20,30,40,50,60,70,80], "tickCount": 40, "format": ".2f", "labelOverlap": false, "domainColor": "#505050", "domainWidth": 2, "title": "2theta", "titleX": 531, "titleY": 20, "titleAlign": "right", "titleBaseline": "middle", "titleAnchor": null}},
"y": {"field": "i", "type": "quantitative", "scale": {"domain": [0, 1000], "nice": false, "zero": false},
"axis": {"values": [50,100,150,200,250,300,350,400,450,500,550,600,650,700,750,800,850,900,950,1000], "tickCount": 40, "format": "d", "labelOverlap": false, "domainColor": "#505050", "domainWidth": 2, "title": "I rel.", "titleAngle": 0, "titleAlign": "left", "titleBaseline": "middle", "titleX": -37, "titleY": -9}}
}
},
{
"data": {"name": "a_bg"},
"mark": {"type": "line", "color": "#ff8000", "strokeWidth": 1, "clip": true, "point": {"shape": "square", "size": 10, "filled": true, "color": "#ff8000"}},
"encoding": {"x": {"field": "t", "type": "quantitative"}, "y": {"field": "i", "type": "quantitative"}}
},
{
"data": {"name": "one"},
"mark": {"type": "text", "text": "a)", "font": "Liberation Serif", "fontWeight": "bold", "fontSize": 24, "align": "left", "baseline": "middle", "color": "#000000"},
"encoding": {"x": {"datum": 79.8}, "y": {"datum": 877}}
},
{
"data": {"name": "one"},
"mark": {"type": "rule", "color": "#e00000", "strokeWidth": 3, "clip": false},
"encoding": {"x": {"datum": 1.6}, "x2": {"datum": 3}, "y": {"datum": 0}}
}
]
},
{
"width": 549,
"height": 351,
"view": {"stroke": null},
"title": {"text": "Cu-Ka (1.541874 A)", "orient": "bottom", "anchor": "start", "frame": "group", "fontSize": 9, "fontWeight": "normal", "font": "Liberation Sans", "color": "#222222", "offset": 0, "dx": -37, "dy": -8},
"layer": [
{
"data": {"name": "b_grid"},
"mark": {"type": "rule", "color": "#cccccc", "strokeWidth": 1, "strokeDash": [1, 2]},
"encoding": {"x": {"field": "t", "type": "quantitative"}, "y": {"datum": -53}, "y2": {"datum": 1108}}
},
{
"data": {"name": "one"},
"mark": {"type": "rule", "color": "#000000", "strokeWidth": 1.2},
"encoding": {"y": {"datum": 0}}
},
{
"data": {"name": "b_refl"},
"mark": {"type": "rule", "color": "#3a3aff", "strokeWidth": 1},
"encoding": {"x": {"field": "t", "type": "quantitative"}, "y": {"datum": -10}, "y2": {"datum": -42}}
},
{
"data": {"name": "b_obs"},
"mark": {"type": "line", "color": "#0000ff", "strokeWidth": 1, "clip": true},
"encoding": {
"x": {"field": "t", "type": "quantitative", "scale": {"domain": [3, 89.4], "nice": false, "zero": false},
"axis": {"values": [10,20,30,40,50,60,70,80], "tickCount": 40, "format": ".2f", "labelOverlap": false, "grid": false, "domainColor": "#9a9a9a", "domainWidth": 3, "title": "2theta", "titleX": 529, "titleY": 22, "titleAlign": "left", "titleBaseline": "middle", "titleAnchor": null}},
"y": {"field": "i", "type": "quantitative", "scale": {"domain": [-53, 1122], "nice": false, "zero": false},
"axis": {"values": [100,200,300,400,500,600,700,800,900,1000,1100], "tickCount": 40, "format": "d", "labelOverlap": false, "domain": false, "title": "I rel.", "titleAngle": 0, "titleAlign": "left", "titleBaseline": "middle", "titleX": -39, "titleY": -5}}
}
},
{
"data": {"name": "b_calc"},
"mark": {"type": "line", "color": "#b00000", "strokeWidth": 1.3, "clip": true},
"encoding": {"x": {"field": "t", "type": "quantitative"}, "y": {"field": "i", "type": "quantitative"}, "detail": {"field": "s", "type": "nominal"}}
},
{
"data": {"name": "b_bg"},
"mark": {"type": "line", "color": "#ff8000", "strokeWidth": 1, "clip": true, "point": {"shape": "square", "size": 10, "filled": true, "color": "#ff8000"}},
"encoding": {"x": {"field": "t", "type": "quantitative"}, "y": {"field": "i", "type": "quantitative"}}
},
{
"data": {"name": "one"},
"mark": {"type": "rule", "color": "#ffffff", "strokeWidth": 8, "clip": true},
"encoding": {"x": {"datum": 3}, "x2": {"datum": 89.4}, "y": {"datum": 1117}}
},
{
"data": {"name": "one"},
"mark": {"type": "rule", "color": "#404040", "strokeWidth": 1.5},
"encoding": {"x": {"datum": 3}, "x2": {"datum": 89.4}, "y": {"datum": 1108}}
},
{
"data": {"name": "one"},
"mark": {"type": "rule", "color": "#404040", "strokeWidth": 2},
"encoding": {"x": {"datum": 3}, "y": {"datum": -53}, "y2": {"datum": 1108}}
},
{
"data": {"name": "one"},
"mark": {"type": "text", "text": "b)", "font": "Liberation Serif", "fontWeight": "bold", "fontSize": 24, "align": "left", "baseline": "middle", "color": "#000000"},
"encoding": {"x": {"datum": 80.6}, "y": {"datum": 952}}
},
{
"data": {"name": "one"},
"mark": {"type": "rule", "color": "#e00000", "strokeWidth": 3, "clip": false},
"encoding": {"x": {"datum": 1.4}, "x2": {"datum": 3}, "y": {"datum": 0}}
}
]
}
],
"config": {
"font": "Liberation Sans",
"axis": {"labelFont": "Liberation Sans", "labelFontSize": 10, "labelColor": "#2e2e48", "titleFont": "Liberation Sans", "titleFontSize": 9, "titleFontWeight": "normal", "titleColor": "#222222", "grid": true, "gridColor": "#cccccc", "gridDash": [1, 2], "gridWidth": 1, "tickColor": "#333333", "tickSize": 4, "labelPadding": 2}
}
}
